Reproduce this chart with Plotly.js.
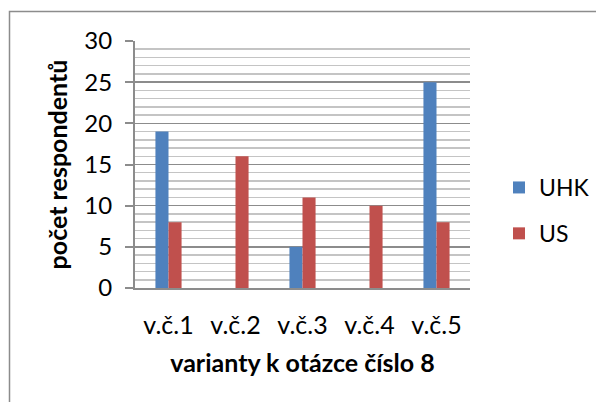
<!DOCTYPE html>
<html>
<head>
<meta charset="utf-8">
<script src="https://cdn.plot.ly/plotly-3.0.1.min.js"></script>
<style>html,body{margin:0;padding:0;background:#fff;}#chart{width:596px;height:402px;}</style>
</head>
<body>
<div id="chart"></div>
<script>
const categories = ["v.č.1", "v.č.2", "v.č.3", "v.č.4", "v.č.5"];
const seriesNames = ["UHK", "US"];
const uhkValues = [19, 0, 5, 0, 25];
const usValues = [8, 16, 11, 10, 8];
const yTickValues = [0, 5, 10, 15, 20, 25, 30];

const W = 596, H = 402;
const plotL = 135, plotR = 470, plotT = 41, plotB = 288;
const pw = plotR - plotL, ph = plotB - plotT;
const px = v => (v - plotL) / pw;
const py = v => (plotB - v) / ph;

const font = "Lato, 'Open Sans', sans-serif";

const traces = [
  {type: "bar", name: seriesNames[0], x: categories, y: uhkValues,
   marker: {color: "#4F81BD"}, legendgroup: "a"},
  {type: "bar", name: seriesNames[1], x: categories, y: usValues,
   marker: {color: "#C0504D"}, legendgroup: "b"}
];

const layout = {
  width: W, height: H,
  margin: {l: plotL, r: W - plotR, t: plotT, b: H - plotB, pad: 0, autoexpand: false},
  paper_bgcolor: "#fff", plot_bgcolor: "#fff",
  barmode: "group", bargap: 0.61, bargroupgap: 0,
  font: {family: font, color: "#000", size: 24},
  xaxis: {
    type: "category", showgrid: false, zeroline: false,
    showline: true, linecolor: "#8c8c8c", linewidth: 2,
    ticks: "", tickfont: {size: 25, family: font},
    ticklabelstandoff: 14,
    title: {text: "varianty k otázce číslo 8", font: {size: 25, family: font, weight: "bold"}, standoff: 16}
  },
  yaxis: {
    range: [0, 30], tickvals: yTickValues, ticktext: yTickValues.map(String),
    showgrid: true, gridcolor: "#8c8c8c", gridwidth: 1.5,
    zeroline: false, showline: true, linecolor: "#8c8c8c", linewidth: 2,
    ticks: "outside", ticklen: 8, tickcolor: "#8c8c8c", tickwidth: 2,
    tickfont: {size: 24, family: font}, ticklabelstandoff: 8,
    minor: {dtick: 1, showgrid: true, gridcolor: "#c4c4c4", gridwidth: 1.5, ticks: ""},
    title: {text: "počet respondentů", font: {size: 25, family: font, weight: "bold"}, standoff: 10}
  },
  legend: {
    x: px(499), xanchor: "left", y: py(166), yanchor: "top",
    font: {size: 23, family: font}, tracegroupgap: 13,
    bgcolor: "rgba(0,0,0,0)", itemwidth: 30
  },
  shapes: [
    {type: "rect", xref: "paper", yref: "paper",
     x0: px(9.5), x1: px(620), y0: py(420), y1: py(11.5),
     line: {color: "#8c8c8c", width: 1.5}, fillcolor: "rgba(0,0,0,0)", layer: "below"}
  ]
};

Plotly.newPlot("chart", traces, layout, {displayModeBar: false, staticPlot: true});
</script>
</body>
</html>
